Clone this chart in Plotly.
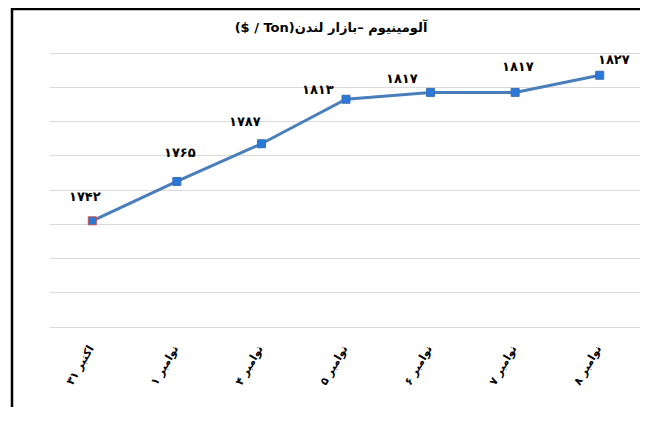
import plotly.graph_objects as go

categories = ["اکتبر ۳۱", "نوامبر ۱", "نوامبر ۴", "نوامبر ۵", "نوامبر ۶", "نوامبر ۷", "نوامبر ۸"]
prices = [1742, 1765, 1787, 1813, 1817, 1817, 1827]
title_text = "($ / Ton)آلومینیوم –بازار لندن"
# label offsets in pixels (dx, dy) for the data labels
label_offsets = [(-7, 24), (3, 29), (-16, 22), (-28, 10), (-29, 14), (3, 26), (14, 16)]
y_min, y_max, y_step = 1680, 1840, 20

fa_digits = str.maketrans("0123456789", "۰۱۲۳۴۵۶۷۸۹")

FONT = "DejaVu Sans"
OFF = 8  # page body margin
W, H = 648 - OFF, 421 - 2 * OFF - 6
core_top, core_bot = 53 - OFF, 327 - OFF
pad_px = 3
unit = (core_bot - core_top) / (y_max - y_min)
ml, mr = 50 - OFF, 648 - 642
mt = core_top - pad_px
mb = H - (core_bot + pad_px)
pw, ph = W - ml - mr, H - mt - mb

fig = go.Figure()
fig.add_trace(go.Scatter(
    x=categories, y=prices, mode="lines+markers",
    line=dict(color="#4a7ebb", width=3),
    marker=dict(symbol="square", size=8, color="#2a78d8",
                line=dict(color=["#c0504d"] + ["#3a6fb0"] * (len(prices) - 1), width=1)),
    showlegend=False, hoverinfo="skip",
))

for c, v, (dx, dy) in zip(categories, prices, label_offsets):
    fig.add_annotation(x=c, y=v, text="<b>" + str(v).translate(fa_digits) + "</b>",
                       showarrow=False, xshift=dx, yshift=dy,
                       font=dict(family=FONT, size=13, color="black"))

# outer frame
fig.add_shape(type="rect", xref="paper", yref="paper",
              x0=(12 - OFF - ml) / pw, x1=(642 - OFF - ml) / pw,
              y0=(H - mb - (H + 20)) / ph, y1=(H - mb - 1) / ph,
              line=dict(color="black", width=2.5), fillcolor="rgba(0,0,0,0)", layer="above")

fig.update_layout(
    width=W, height=H,
    margin=dict(l=ml, r=mr, t=mt, b=mb, autoexpand=False),
    paper_bgcolor="white", plot_bgcolor="white",
    title=dict(text="<b>" + title_text + "</b>", x=(331 - OFF) / W, xanchor="center",
               y=1 - (27 - OFF) / H, yanchor="middle",
               font=dict(family=FONT, size=13, color="black")),
    xaxis=dict(type="category", tickangle=-60, showgrid=False, showline=False,
               ticks="", ticklabelstandoff=9, ticklabelshift=-3, automargin=False,
               tickfont=dict(family=FONT, size=11, color="black", weight="bold"),
               range=[-0.5, len(categories) - 0.5], fixedrange=True),
    yaxis=dict(range=[y_min - pad_px / unit, y_max + pad_px / unit], dtick=y_step, tick0=y_min,
               showticklabels=False, automargin=False,
               showgrid=True, gridcolor="#d9d9d9", gridwidth=1.3, zeroline=False,
               showline=False, ticks=""),
)

fig.write_html("out.html")
